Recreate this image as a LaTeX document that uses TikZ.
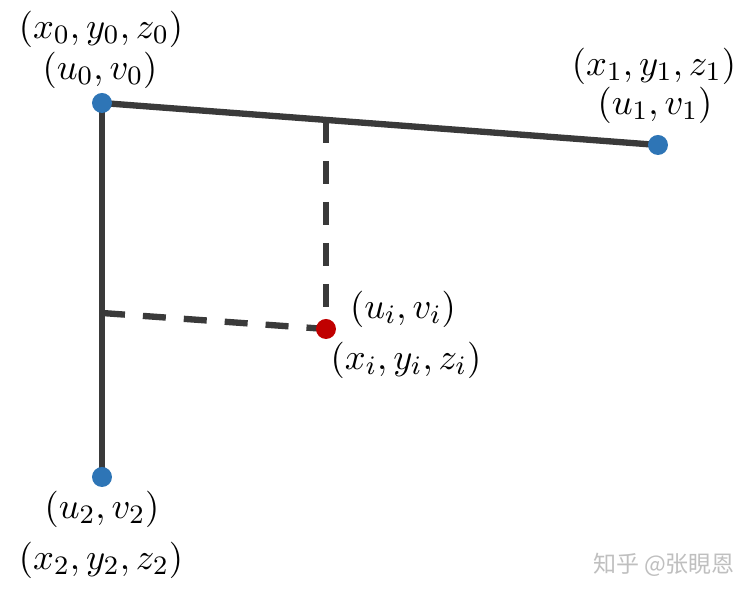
\documentclass[tikz,border=0pt]{standalone}
\usepackage{fontspec}
\newfontfamily\cjk{Noto Sans CJK SC}
\usetikzlibrary{positioning}
\definecolor{edgegray}{HTML}{3A3A3A}
\definecolor{ptblue}{HTML}{2E75B6}
\definecolor{ptred}{HTML}{C00000}

\begin{document}
\begin{tikzpicture}[x=0.3pt,y=-0.3pt,
    every node/.style={font=\fontsize{10.95}{13}\selectfont},
    vertex/.style={circle,inner sep=0pt,minimum size=6pt},
    edge/.style={line width=1.9pt,draw=edgegray},
    proj/.style={edge,dash pattern=on 6.9pt off 5.4pt}]
    \useasboundingbox (0,0) rectangle (755,597);
    % corner points and the inner point
    \coordinate (p0) at (102,103);
    \coordinate (p1) at (658,145);
    \coordinate (p2) at (102,477);
    \coordinate (pi) at (326,329);
    % feet of the dashed lines
    \coordinate (f1) at (326,120);
    \coordinate (f2) at (102,313);
    \draw[edge] (p0) -- (p1);
    \draw[edge] (p0) -- (p2);
    \draw[proj] (f1) -- (pi);
    \draw[proj] (f2) -- (pi);
    \node[vertex,fill=ptblue] (v0) at (p0) {};
    \node[vertex,fill=ptblue] (v1) at (p1) {};
    \node[vertex,fill=ptblue] (v2) at (p2) {};
    \node[vertex,fill=ptred] (vi) at (pi) {};
    % labels
    \node (xyz0) at (101,29) {$(x_0,y_0,z_0)$};
    \node (uv0) at (100,70) {$(u_0,v_0)$};
    \node (xyz1) at (654,66) {$(x_1,y_1,z_1)$};
    \node (uv1) at (655,105) {$(u_1,v_1)$};
    \node (uvi) at (403,309) {$(u_i,v_i)$};
    \node (xyzi) at (406,360) {$(x_i,y_i,z_i)$};
    \node (uv2) at (102,509) {$(u_2,v_2)$};
    \node (xyz2) at (101,560) {$(x_2,y_2,z_2)$};
    % \node at (665,565) {watermark};
    \node[font=\cjk\fontsize{6.9}{8}\selectfont,text=gray!50] (mark) at (664,565) {知乎 @张睍恩};
\end{tikzpicture}
\end{document}
